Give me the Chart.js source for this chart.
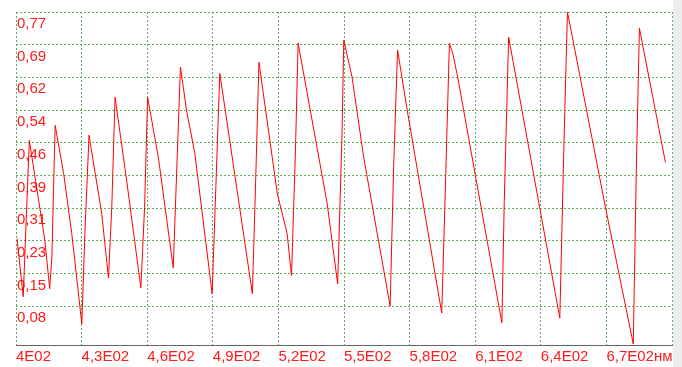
<!DOCTYPE html>
<html>
<head>
<meta charset="utf-8">
<script src="https://cdn.jsdelivr.net/npm/chart.js@4/dist/chart.umd.min.js"></script>
<style>
    html, body { margin: 0; padding: 0; background: #ffffff; overflow: hidden; }
    #wrap { position: absolute; left: 0; top: 0; width: 675px; height: 369px; }
    #strip { position: absolute; left: 673px; top: 0; width: 9px; height: 367px; background: #ececec; z-index: 2; }
</style>
</head>
<body>
<div id="wrap"><canvas id="spectrum"></canvas></div>
<div id="strip"></div>
<script>
// длина волны, нм
const wavelengths = [
    400.5, 403.3, 406.1, 413.2, 415.4, 416.4, 417.9, 421.8, 425.5, 430.1,
    431.5, 433.4, 439.2, 442.3, 443.8, 445.3, 450.6, 457.1, 458.8, 460.2,
    465.1, 471.9, 475.2, 478.0, 481.8, 489.7, 493.2, 508.1, 509.6, 511.1,
    519.5, 524.0, 526.0, 527.8, 529.0, 542.3, 547.1, 549.1, 549.9, 553.7,
    559.0, 571.1, 572.7, 574.5, 578.7, 594.7, 596.2, 598.2, 599.7, 602.0,
    622.2, 623.3, 625.3, 639.5, 648.7, 650.7, 652.2, 669.6, 682.3, 683.7,
    685.1, 697.0
];
const values = [
    0.238, 0.102, 0.469, 0.234, 0.121, 0.194, 0.504, 0.391, 0.250, 0.038,
    0.250, 0.481, 0.297, 0.146, 0.311, 0.570, 0.375, 0.123, 0.311, 0.570,
    0.429, 0.170, 0.641, 0.539, 0.438, 0.109, 0.626, 0.109, 0.375, 0.652,
    0.344, 0.250, 0.151, 0.445, 0.697, 0.321, 0.132, 0.485, 0.704, 0.617,
    0.429, 0.080, 0.405, 0.681, 0.546, 0.064, 0.328, 0.697, 0.674, 0.617,
    0.041, 0.328, 0.711, 0.311, 0.052, 0.485, 0.770, 0.311, -0.009, 0.405,
    0.732, 0.417
];

// подписи осей
const xTickValues = [400, 430, 460, 490, 520, 550, 580, 610, 640, 670, 700];
const xTickLabels = ["4E02", "4,3E02", "4,6E02", "4,9E02", "5,2E02", "5,5E02",
    "5,8E02", "6,1E02", "6,4E02", "6,7E02нм", ""];
const yTickValues = [0.08, 0.1567, 0.2333, 0.31, 0.3867, 0.4633, 0.54, 0.6167, 0.6933, 0.77];
const yTickLabels = ["0,08", "0,15", "0,23", "0,31", "0,39", "0,46", "0,54", "0,62", "0,69", "0,77"];

const points = wavelengths.map((w, i) => ({ x: w, y: values[i] }));

const gridGreen = "#5fab5f";
const labelFont = { family: "'Liberation Sans', Arial, sans-serif", size: 15 };

new Chart(document.getElementById("spectrum"), {
    type: "line",
    data: {
        datasets: [{
            data: points,
            borderColor: "#ff0000",
            borderWidth: 1,
            pointRadius: 0,
            tension: 0,
            fill: false
        }]
    },
    options: {
        responsive: true,
        maintainAspectRatio: false,
        animation: false,
        layout: { padding: { left: 14, top: 12, right: 0, bottom: 0 } },
        plugins: {
            legend: { display: false },
            tooltip: { enabled: false }
        },
        scales: {
            x: {
                type: "linear",
                min: 400,
                max: 700,
                afterBuildTicks: (axis) => {
                    axis.ticks = xTickValues.map(v => ({ value: v }));
                },
                grid: {
                    color: gridGreen,
                    lineWidth: 1,
                    drawTicks: false
                },
                // в v4 пунктир сетки задаётся через border.dash
                border: { display: true, color: "#666666", width: 1, dash: [2, 2] },
                ticks: {
                    autoSkip: false,
                    maxRotation: 0,
                    align: "start",
                    padding: 3,
                    color: "#ff1a1a",
                    font: labelFont,
                    callback: (value) => {
                        const i = xTickValues.indexOf(value);
                        return i >= 0 ? xTickLabels[i] : "";
                    }
                }
            },
            y: {
                type: "linear",
                min: -0.0112,
                max: 0.77,
                afterBuildTicks: (axis) => {
                    axis.ticks = yTickValues.map(v => ({ value: v }));
                },
                grid: {
                    color: gridGreen,
                    lineWidth: 1,
                    drawTicks: false
                },
                border: { display: false, dash: [2, 2] },
                ticks: {
                    mirror: true,
                    padding: 1,
                    labelOffset: 12,
                    color: "#ff1a1a",
                    font: labelFont,
                    callback: (value) => {
                        const i = yTickValues.indexOf(value);
                        return i >= 0 ? yTickLabels[i] : "";
                    }
                }
            }
        }
    }
});
</script>
</body>
</html>
